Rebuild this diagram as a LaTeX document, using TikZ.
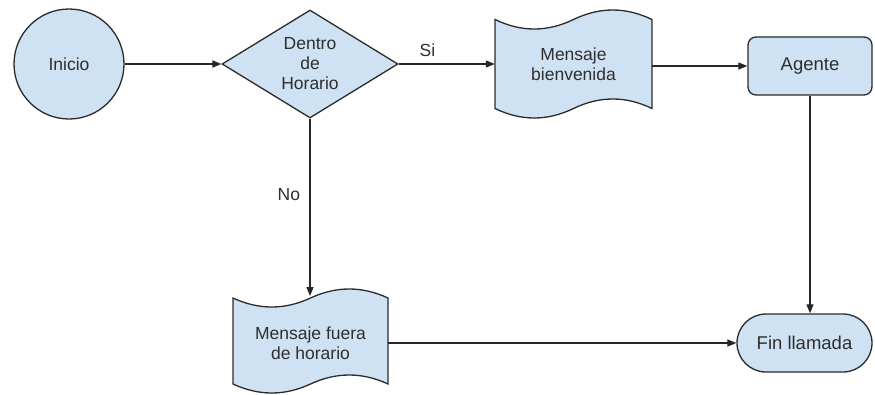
\documentclass[tikz,border=0pt]{standalone}
\usepackage{fontspec}
\setmainfont{Liberation Sans}
\usetikzlibrary{shapes.geometric,shapes.misc,arrows.meta}
\definecolor{boxfill}{HTML}{CFE2F3}
\definecolor{boxline}{HTML}{2B2B2B}
\definecolor{txt}{HTML}{2E2E2E}
\newcommand{\tapepath}[5]{% x0 x1 ytop ybot d
  \filldraw[shapeline]
    (#1,{#3+#5})
    .. controls ({#1+(#2-#1)/6},{#3+#5+1.333*#5}) and ({#1+(#2-#1)/3},{#3+#5+1.333*#5}) .. ({(#1+#2)/2},{#3+#5})
    .. controls ({#1+2*(#2-#1)/3},{#3+#5-1.333*#5}) and ({#1+5*(#2-#1)/6},{#3+#5-1.333*#5}) .. (#2,{#3+#5})
    -- (#2,{#4-#5})
    .. controls ({#1+5*(#2-#1)/6},{#4-#5-1.333*#5}) and ({#1+2*(#2-#1)/3},{#4-#5-1.333*#5}) .. ({(#1+#2)/2},{#4-#5})
    .. controls ({#1+(#2-#1)/3},{#4-#5+1.333*#5}) and ({#1+(#2-#1)/6},{#4-#5+1.333*#5}) .. (#1,{#4-#5})
    -- cycle;}
\begin{document}
\begin{tikzpicture}[x=1pt,y=-1pt,
  shapeline/.style={draw=boxline,fill=boxfill,line width=1.3pt},
  lbl/.style={text=txt,font=\fontsize{17.5}{20}\selectfont,align=center},
  circ/.style={shapeline,lbl,circle,minimum size=110pt,inner sep=0pt},
  decision/.style={shapeline,lbl,diamond,aspect=1.63,inner sep=0pt,minimum width=176pt,minimum height=108pt},
  procbox/.style={shapeline,lbl,rectangle,rounded corners=8pt,minimum width=124pt,minimum height=58pt,font=\fontsize{18.5}{22}\selectfont},
  termbox/.style={shapeline,lbl,rounded rectangle,minimum width=135pt,minimum height=58pt,inner sep=0pt,font=\fontsize{18.5}{22}\selectfont},
  tapetext/.style={lbl,rectangle,inner sep=0pt},
  arr/.style={draw=black!85,line width=1.2pt,-{Triangle[length=9pt,width=7pt]}},
  edgelbl/.style={text=txt,font=\fontsize{17.5}{20}\selectfont}
]
\useasboundingbox (0,0) rectangle (875,394);

\node[circ] (inicio) at (69,64) {Inicio};
\node[decision] (dentro) at (310,64) {Dentro\\de\\Horario};

\tapepath{495}{652}{10}{118}{9.5}
\node[tapetext,minimum width=157pt,minimum height=108pt] (bienv) at (573.5,64) {Mensaje\\bienvenida};

\tapepath{233}{388}{289}{393}{9}
\node[tapetext,minimum width=155pt,minimum height=104pt] (fuera) at (310.5,343) {Mensaje fuera\\de horario};
\coordinate (fueratop) at (310,296);

\node[procbox] (agente) at (810,66) {Agente};
\node[termbox] (fin) at (804.5,343) {Fin llamada};

\draw[arr] (inicio) -- (dentro.west);
\draw[arr] (dentro.east) -- node[edgelbl,above=3pt,pos=0.3] {Si} (bienv.west);
\draw[arr] (bienv.east |- agente.west) -- (agente.west);
\draw[arr] (agente.south) -- (agente.south |- fin.north);
\draw[arr] (dentro.south) -- node[edgelbl,left=6pt,pos=0.43] {No} (fueratop);
\draw[arr] (fuera.east) -- (fin.west);
\end{tikzpicture}
\end{document}
